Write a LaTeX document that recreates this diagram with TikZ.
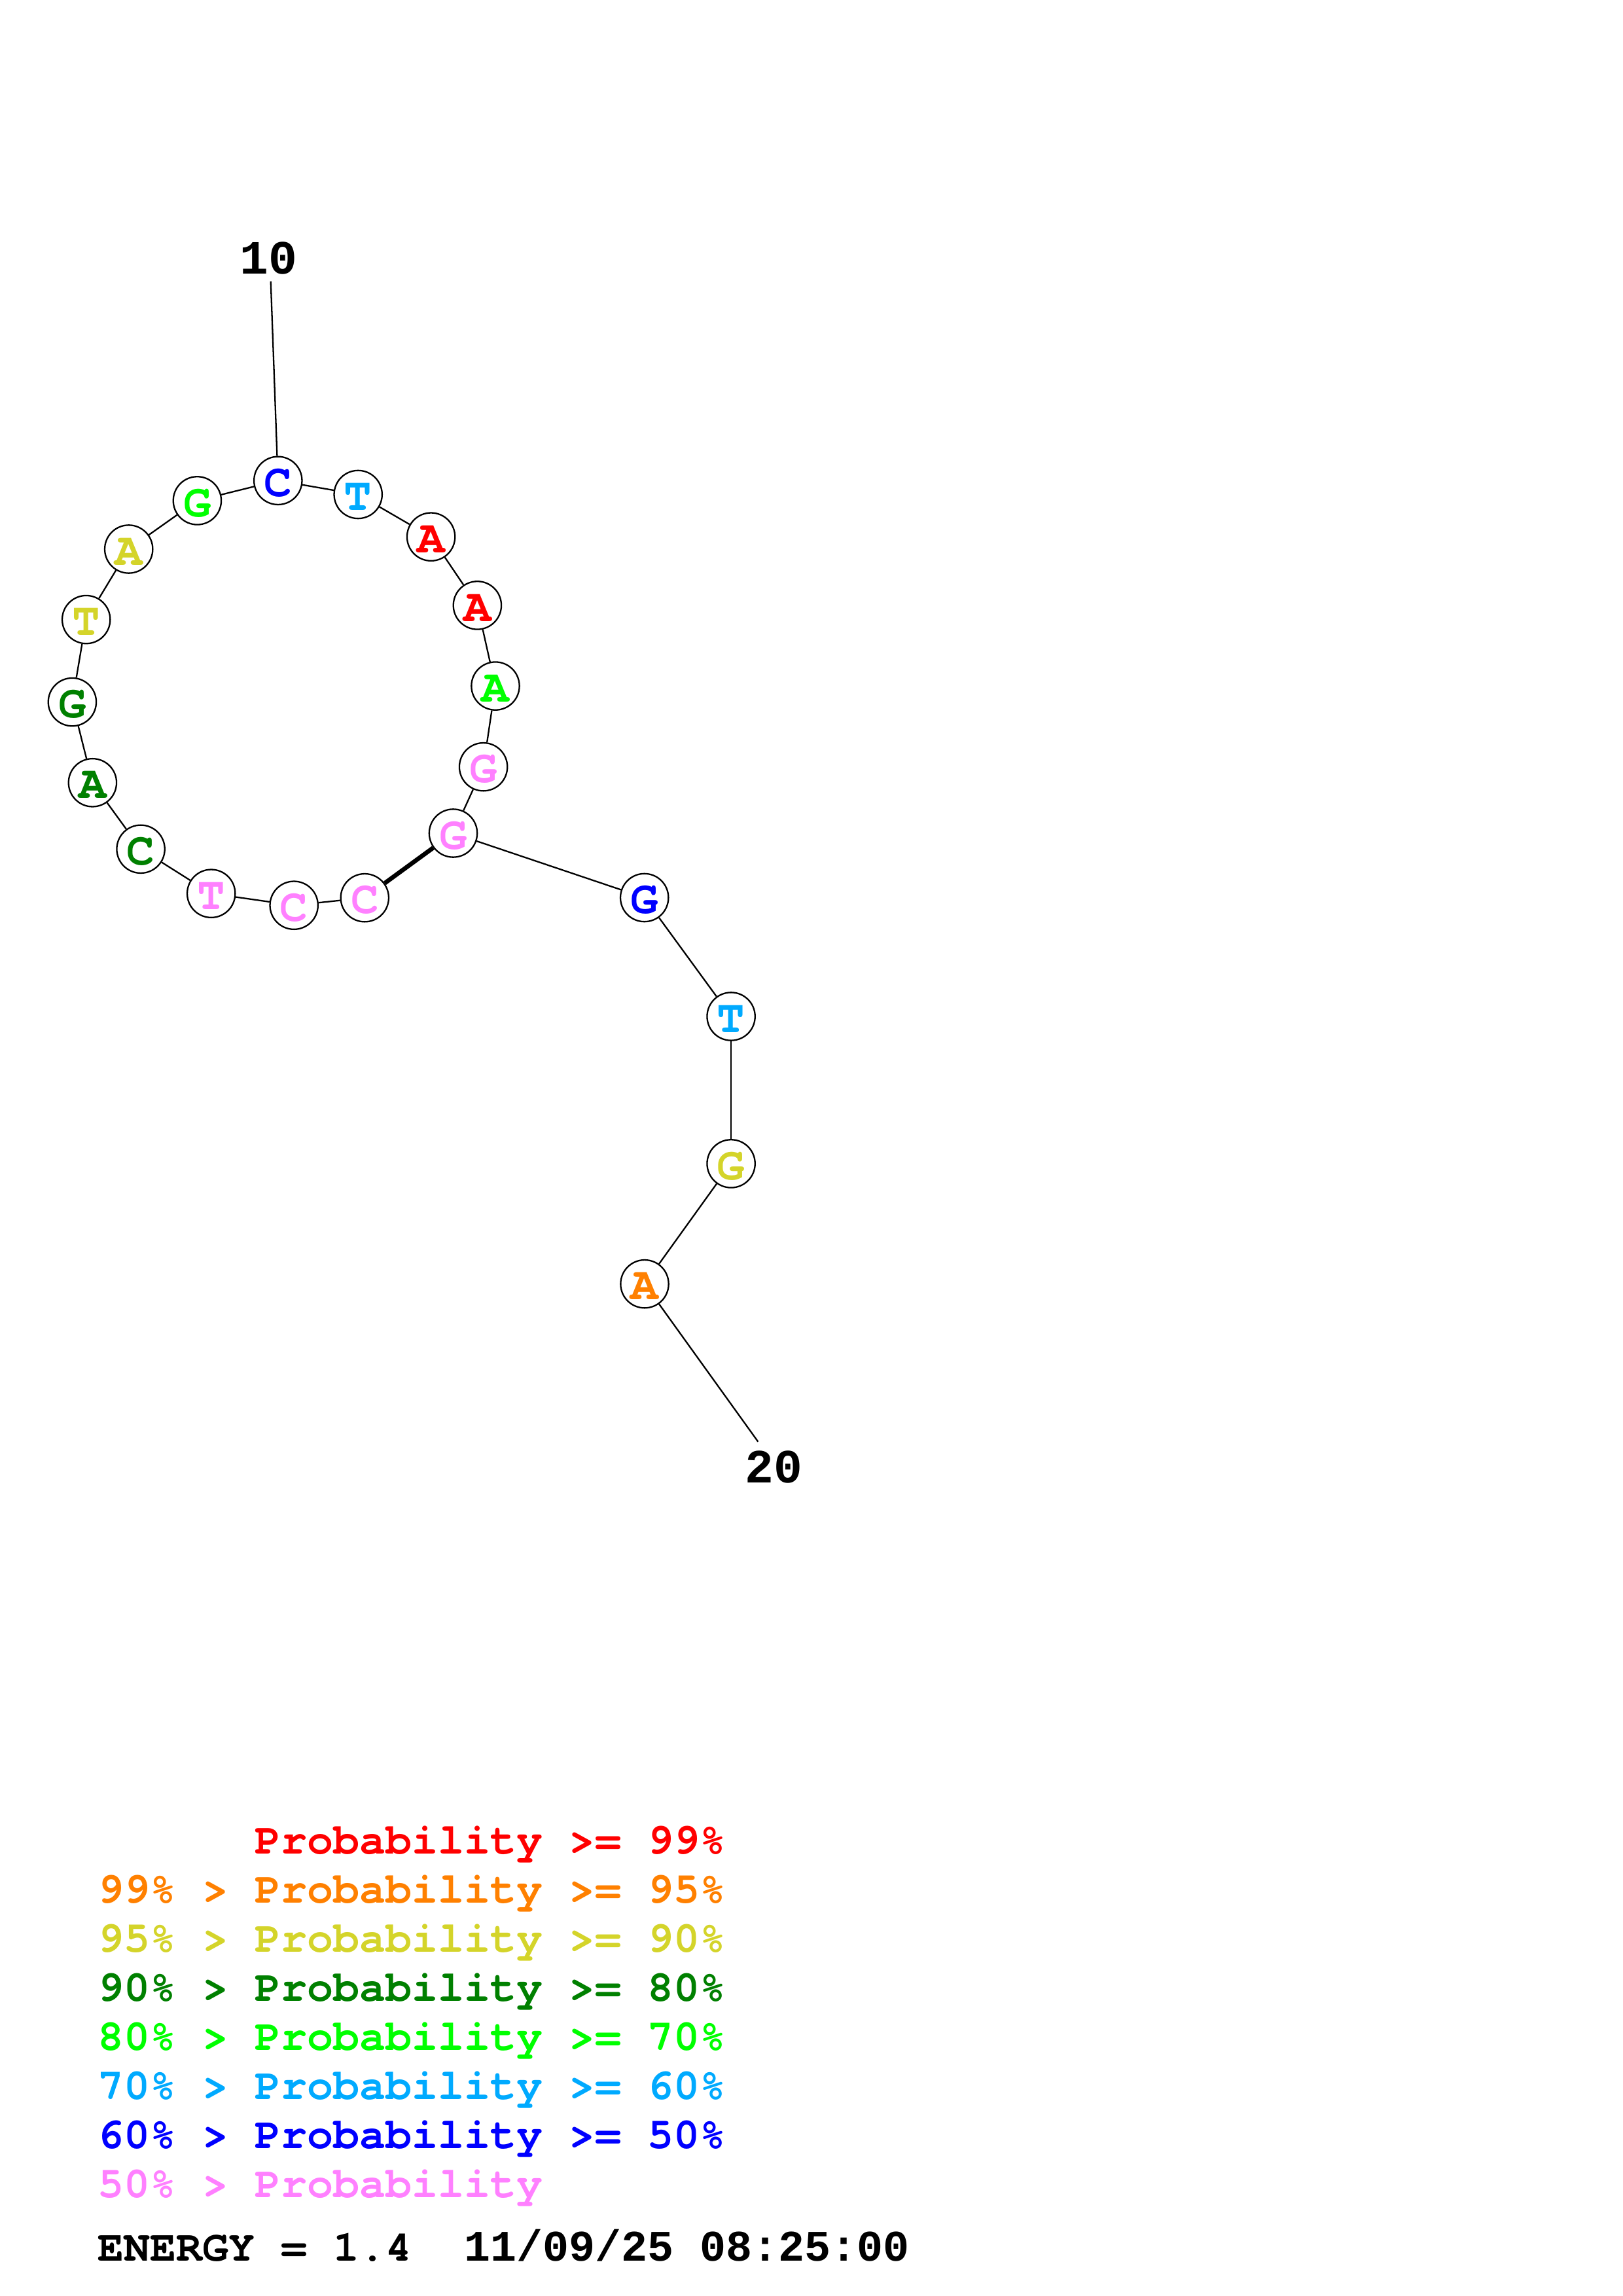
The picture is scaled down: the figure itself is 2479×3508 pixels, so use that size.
\documentclass[tikz,border=0pt]{standalone}
\usepackage{fontspec}
\newfontfamily\cour{texgyrecursor-bold.otf}
\newfontfamily\lmono{Liberation Mono}
\definecolor{pred}{RGB}{255,0,0}
\definecolor{porange}{RGB}{255,128,0}
\definecolor{pyellow}{RGB}{212,212,42}
\definecolor{pdkgreen}{RGB}{0,128,0}
\definecolor{pgreen}{RGB}{0,255,0}
\definecolor{pcyan}{RGB}{0,170,255}
\definecolor{pblue}{RGB}{0,0,255}
\definecolor{ppink}{RGB}{255,128,255}
\tikzset{
  nt/.style={circle, draw, line width=0.55pt, minimum size=17.6pt, inner sep=0pt, fill=white,
    font=\cour\fontsize{17}{17}\selectfont, text height=11.6pt, text depth=0pt},
  bb/.style={line width=0.55pt},
  bpair/.style={line width=1.6pt},
  lbl/.style={anchor=base, inner sep=0pt, font=\lmono\bfseries\fontsize{17.5}{17.5}\selectfont},
  leg/.style={anchor=base west, inner sep=0pt, font=\cour\fontsize{16}{16}\selectfont},
}
\begin{document}
\begin{tikzpicture}[x=0.24pt, y=-0.24pt]
\fill[white] (0,0) rectangle (2479,3508);
\path[use as bounding box] (0,0) rectangle (2479,3508);
% nucleotides
\node[nt, text=ppink]    (n1)  at (557.3,1371.7) {C};
\node[nt, text=ppink]    (n2)  at (449.2,1383.2) {C};
\node[nt, text=ppink]    (n3)  at (322.7,1365.2) {T};
\node[nt, text=pdkgreen] (n4)  at (215.1,1297.3) {C};
\node[nt, text=pdkgreen] (n5)  at (141.4,1195.8) {A};
\node[nt, text=pdkgreen] (n6)  at (110.4,1072.6) {G};
\node[nt, text=pyellow]  (n7)  at (131.7,946.6) {T};
\node[nt, text=pyellow]  (n8)  at (196.7,839.0) {A};
\node[nt, text=pgreen]   (n9)  at (301.4,764.9) {G};
\node[nt, text=pblue]    (n10) at (424.8,734.3) {C};
\node[nt, text=pcyan]    (n11) at (547.2,755.5) {T};
\node[nt, text=pred]     (n12) at (658.6,820.2) {A};
\node[nt, text=pred]     (n13) at (729.4,924.9) {A};
\node[nt, text=pgreen]   (n14) at (757.0,1048.1) {A};
\node[nt, text=ppink]    (n15) at (738.6,1171.7) {G};
\node[nt, text=ppink]    (n16) at (692.5,1273.0) {G};
\node[nt, text=pblue]    (n17) at (984.7,1371.5) {G};
\node[nt, text=pcyan]    (n18) at (1117.1,1553.0) {T};
\node[nt, text=pyellow]  (n19) at (1117.1,1777.9) {G};
\node[nt, text=porange]  (n20) at (985.0,1961.7) {A};
% backbone
\draw[bb] (n1) -- (n2);
\draw[bb] (n2) -- (n3);
\draw[bb] (n3) -- (n4);
\draw[bb] (n4) -- (n5);
\draw[bb] (n5) -- (n6);
\draw[bb] (n6) -- (n7);
\draw[bb] (n7) -- (n8);
\draw[bb] (n8) -- (n9);
\draw[bb] (n9) -- (n10);
\draw[bb] (n10) -- (n11);
\draw[bb] (n11) -- (n12);
\draw[bb] (n12) -- (n13);
\draw[bb] (n13) -- (n14);
\draw[bb] (n14) -- (n15);
\draw[bb] (n15) -- (n16);
\draw[bb] (n16) -- (n17);
\draw[bb] (n17) -- (n18);
\draw[bb] (n18) -- (n19);
\draw[bb] (n19) -- (n20);
% base pair
\draw[bpair] (n1) -- (n16);
% numbering labels
\node[lbl] (l10) at (410.5,418.3) {10};
\coordinate (t10) at (413.7,430);
\draw[bb] (t10) -- (n10);
\node[lbl] (l20) at (1182,2265) {20};
\coordinate (t20) at (1158.3,2202.7);
\draw[bb] (n20) -- (t20);
% legend
\node[leg, text=pred]     (g1) at (149,2832.7) {\phantom{99\%~>~}Probability >= 99\%};
\node[leg, text=porange]  (g2) at (149,2907.7) {99\% > Probability >= 95\%};
\node[leg, text=pyellow]  (g3) at (149,2982.7) {95\% > Probability >= 90\%};
\node[leg, text=pdkgreen] (g4) at (149,3057.7) {90\% > Probability >= 80\%};
\node[leg, text=pgreen]   (g5) at (149,3132.7) {80\% > Probability >= 70\%};
\node[leg, text=pcyan]    (g6) at (149,3207.7) {70\% > Probability >= 60\%};
\node[leg, text=pblue]    (g7) at (149,3282.7) {60\% > Probability >= 50\%};
\node[leg, text=ppink]    (g8) at (149,3357.7) {50\% > Probability};
\node[leg] (en) at (149,3454) {ENERGY = 1.4};
\node[anchor=base west, inner sep=0pt, font=\lmono\bfseries\fontsize{16}{16}\selectfont] (dt) at (709,3454) {11/09/25 08:25:00};
\end{tikzpicture}
\end{document}
